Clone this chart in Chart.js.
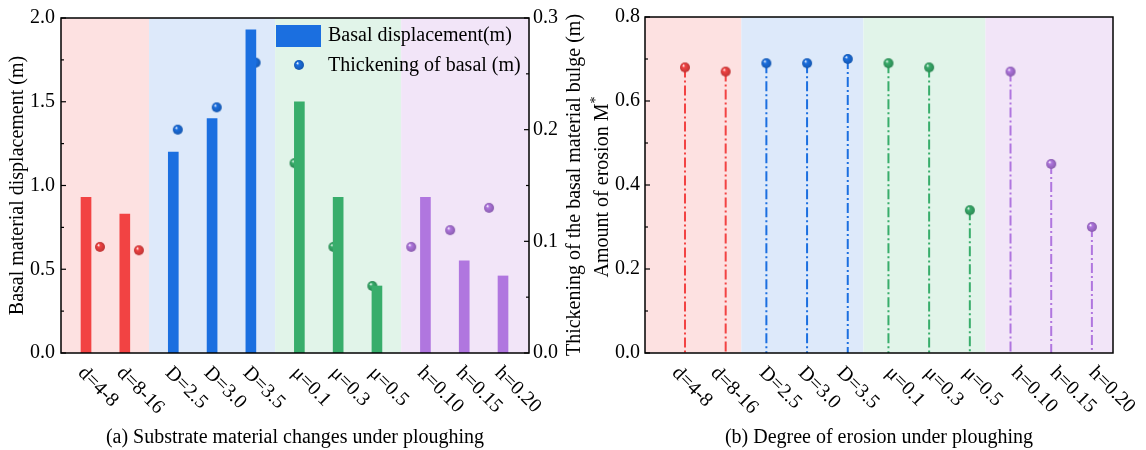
<!DOCTYPE html>
<html><head><meta charset="utf-8">
<script src="https://cdn.jsdelivr.net/npm/chart.js@4/dist/chart.umd.min.js"></script>
<style>
html,body{margin:0;padding:0;background:#fff;}
#wrap{position:relative;width:1146px;height:450px;overflow:hidden;}
#c1{position:absolute;left:0;top:0;}
#c2{position:absolute;left:590px;top:0;}
</style></head><body>
<div id="wrap"><canvas id="c1" width="590" height="450"></canvas><canvas id="c2" width="556" height="450"></canvas></div>
<script>
// ---------------- data ----------------
const categories = ['d=4-8','d=8-16','D=2.5','D=3.0','D=3.5','μ=0.1','μ=0.3','μ=0.5','h=0.10','h=0.15','h=0.20'];
const groups = [0,0,1,1,1,2,2,2,3,3,3];
const basalDisplacement = [0.93,0.83,1.20,1.40,1.93,1.50,0.93,0.40,0.93,0.55,0.46];
const thickening = [0.095,0.092,0.200,0.220,0.260,0.170,0.095,0.060,0.095,0.110,0.130];
const erosion = [0.68,0.67,0.69,0.69,0.70,0.69,0.68,0.34,0.67,0.45,0.30];
const dispTicks = [0,0.5,1.0,1.5,2.0];
const thickTicks = [0,0.1,0.2,0.3];
const erosionTicks = [0,0.2,0.4,0.6,0.8];
const seriesNames = ['Basal displacement(m)','Thickening of basal (m)'];
const axisTitles = ['Basal material displacement (m)','Thickening of the basal material bulge (m)','Amount of erosion M','*'];
const captions = ['(a) Substrate material changes under ploughing','(b) Degree of erosion under ploughing'];

// ---------------- style / layout ----------------
const FONT = '"Liberation Serif", "Times New Roman", serif';
const groupColors = ['#f24343','#1b6fe0','#38ad6b','#b076df'];
const bandColors = ['#fde1e1','#dde9fa','#e1f4e9','#f2e5f8'];
const GAP = 0.25;
const gapPos = categories.map((_, i) => i + GAP * groups[i]);
const ptPos1 = categories.map((_, i) => 0.36 + 1.003 * i);
const stemPos2 = categories.map((_, i) => 0.128 + 1.049 * i);

Chart.defaults.font.family = FONT;
Chart.defaults.font.size = 20;
Chart.defaults.color = '#000';

function shade(hex, f){
  const n = parseInt(hex.slice(1),16);
  const r = Math.round(((n>>16)&255)*f), g = Math.round(((n>>8)&255)*f), b = Math.round((n&255)*f);
  return `rgb(${r},${g},${b})`;
}
function sphere(color, r){
  const c = document.createElement('canvas');
  const s = 2*r + 2; c.width = s; c.height = s;
  const g = c.getContext('2d');
  const cx = s/2, cy = s/2;
  const grad = g.createRadialGradient(cx - r*0.35, cy - r*0.4, r*0.05, cx, cy, r);
  grad.addColorStop(0, '#ffffff');
  grad.addColorStop(0.28, color);
  grad.addColorStop(1, shade(color, 0.78));
  g.fillStyle = grad;
  g.beginPath(); g.arc(cx, cy, r, 0, Math.PI*2); g.fill();
  return c;
}
const spheres = groupColors.map(c => sphere(c, 5));

function bandEdges(pos, shift){
  const e = [];
  for (let i = 0; i < groups.length - 1; i++) {
    if (groups[i] !== groups[i+1]) e.push((pos[i] + pos[i+1]) / 2 + shift);
  }
  return e;
}

function verticalTitle(ctx, parts, cx, cy){
  // parts: [[text, size, raise], ...] drawn bottom-to-top, centered at (cx, cy)
  const widths = parts.map(([t, s]) => { ctx.font = s + 'px ' + FONT; return ctx.measureText(t).width; });
  const W = widths.reduce((a, b) => a + b, 0);
  ctx.save();
  ctx.translate(cx, cy);
  ctx.rotate(-Math.PI / 2);
  ctx.fillStyle = '#000';
  ctx.textAlign = 'left'; ctx.textBaseline = 'middle';
  let x = -W / 2;
  parts.forEach(([t, s, raise], k) => {
    ctx.font = s + 'px ' + FONT;
    ctx.fillText(t, x, -raise);
    x += widths[k];
  });
  ctx.restore();
}

function decorPlugin(opts){
  return {
    id: 'decor',
    beforeDatasetsDraw(chart){
      const {ctx, chartArea: a, scales} = chart;
      const xs = scales.x;
      const edges = opts.edges;
      ctx.save();
      for (let g = 0; g < bandColors.length; g++) {
        const x0 = g === 0 ? a.left : xs.getPixelForValue(edges[g-1]);
        const x1 = g === bandColors.length - 1 ? a.right : xs.getPixelForValue(edges[g]);
        ctx.fillStyle = bandColors[g];
        ctx.fillRect(x0, a.top, x1 - x0, a.bottom - a.top);
      }
      ctx.restore();
    },
    afterDraw(chart){
      const {ctx, chartArea: a, scales} = chart;
      ctx.save();
      ctx.strokeStyle = '#000'; ctx.lineWidth = 1.5;
      ctx.strokeRect(a.left, a.top, a.right - a.left, a.bottom - a.top);
      ctx.lineWidth = 1.2;
      opts.yTicks.forEach(([id, ticks, side]) => {
        const s = scales[id];
        const x = side === 'left' ? a.left : a.right;
        const dir = side === 'left' ? 1 : -1;
        ticks.forEach((v, k) => {
          const y = s.getPixelForValue(v);
          ctx.beginPath(); ctx.moveTo(x, y); ctx.lineTo(x + dir*5, y); ctx.stroke();
          if (k < ticks.length - 1) {
            const ym = s.getPixelForValue((v + ticks[k+1]) / 2);
            ctx.beginPath(); ctx.moveTo(x, ym); ctx.lineTo(x + dir*3, ym); ctx.stroke();
          }
        });
      });
      ctx.fillStyle = '#000';
      ctx.font = '20px ' + FONT;
      ctx.textAlign = 'left'; ctx.textBaseline = 'middle';
      categories.forEach((lab, i) => {
        const px = scales.x.getPixelForValue(gapPos[i]) + opts.labelDx;
        ctx.save();
        ctx.translate(px, a.bottom + 17);
        ctx.rotate(Math.PI / 4);
        ctx.fillText(lab, 0, 0);
        ctx.restore();
      });
      if (opts.extra) opts.extra(chart);
      ctx.restore();
    }
  };
}

function yScale(ticks, pos, width, title, titlePad, tickPad){
  return {
    type: 'linear', position: pos, min: ticks[0], max: ticks[ticks.length-1],
    afterBuildTicks: s => { s.ticks = ticks.map(v => ({value: v})); },
    afterFit: s => { s.width = width; },
    grid: {display: false, drawTicks: false},
    border: {display: false},
    ticks: {padding: tickPad, font: {size: 20}, color: '#000', callback: v => Number(v).toFixed(1)},
    title: {display: !!title, text: title || '', font: {size: 20}, color: '#000', padding: {top: titlePad, bottom: 0}}
  };
}
function xScale(min, max, caption){
  return {
    type: 'linear', position: 'bottom', min, max, offset: false,
    afterFit: s => { s.height = 97; },
    grid: {display: false, drawTicks: false},
    border: {display: false},
    ticks: {display: false},
    title: {display: true, text: caption, font: {size: 20}, color: '#000', padding: {top: 0, bottom: 0}}
  };
}

// ---------------- chart (a) ----------------
new Chart(document.getElementById('c1'), {
  type: 'bar',
  data: {
    datasets: [
      {
        type: 'bar', label: seriesNames[0], yAxisID: 'y',
        data: basalDisplacement.map((v, i) => ({x: gapPos[i], y: v})),
        backgroundColor: groups.map(g => groupColors[g]),
        barThickness: 10, borderWidth: 0, grouped: false
      },
      {
        type: 'scatter', label: seriesNames[1], yAxisID: 'y2',
        data: thickening.map((v, i) => ({x: ptPos1[i], y: v})),
        pointStyle: ctx => spheres[groups[ctx.dataIndex]],
        pointRadius: 5, showLine: false
      }
    ]
  },
  options: {
    responsive: false, animation: false, events: [],
    layout: {autoPadding: false, padding: {top: 17, left: 0, right: 0, bottom: 0}},
    plugins: {legend: {display: false}, tooltip: {enabled: false}},
    scales: {
      x: xScale(-0.645, 11.42, captions[0]),
      y: yScale(dispTicks, 'left', 61, axisTitles[0], 6, 6),
      y2: yScale(thickTicks, 'right', 61, '', 0, 4)
    }
  },
  plugins: [decorPlugin({
    edges: bandEdges(gapPos, 0),
    labelDx: -5,
    yTicks: [['y', dispTicks, 'left'], ['y2', thickTicks, 'right']],
    extra(chart){
      const ctx = chart.ctx;
      const ds = chart.data.datasets;
      ctx.fillStyle = groupColors[1];
      ctx.fillRect(276, 25, 45, 22);
      ctx.drawImage(spheres[1], 299 - spheres[1].width/2, 65 - spheres[1].height/2);
      ctx.fillStyle = '#000';
      ctx.font = '20px ' + FONT;
      ctx.textAlign = 'left'; ctx.textBaseline = 'middle';
      ctx.fillText(ds[0].label, 328, 36);
      ctx.fillText(ds[1].label, 328, 66);
      verticalTitle(ctx, [[axisTitles[1], 20, 0]], 575, 185);
    }
  })]
});

// ---------------- chart (b) ----------------
const stemSets = erosion.map((v, i) => ({
  type: 'scatter', label: categories[i], showLine: true,
  data: [{x: stemPos2[i], y: v}, {x: stemPos2[i], y: 0}],
  borderColor: groupColors[groups[i]], borderWidth: 2,
  borderDash: [10, 3, 2, 3], pointRadius: 0, yAxisID: 'y'
}));
new Chart(document.getElementById('c2'), {
  type: 'scatter',
  data: {
    datasets: [
      {
        type: 'scatter', label: 'M*', yAxisID: 'y',
        data: erosion.map((v, i) => ({x: stemPos2[i], y: v})),
        pointStyle: ctx => spheres[groups[ctx.dataIndex]],
        pointRadius: 5, showLine: false
      },
      ...stemSets
    ]
  },
  options: {
    responsive: false, animation: false, events: [],
    layout: {autoPadding: false, padding: {top: 17, left: 0, right: 33, bottom: 0}},
    plugins: {legend: {display: false}, tooltip: {enabled: false}},
    scales: {
      x: xScale(-0.903, 11.162, captions[1]),
      y: yScale(erosionTicks, 'left', 55, '', 0, 5)
    }
  },
  plugins: [decorPlugin({
    edges: bandEdges(stemPos2, -0.12),
    labelDx: -5,
    yTicks: [['y', erosionTicks, 'left']],
    extra(chart){
      verticalTitle(chart.ctx, [[axisTitles[2], 20, 0], [axisTitles[3], 14, 7]], 13, 187);
    }
  })]
});
</script>
</body></html>
